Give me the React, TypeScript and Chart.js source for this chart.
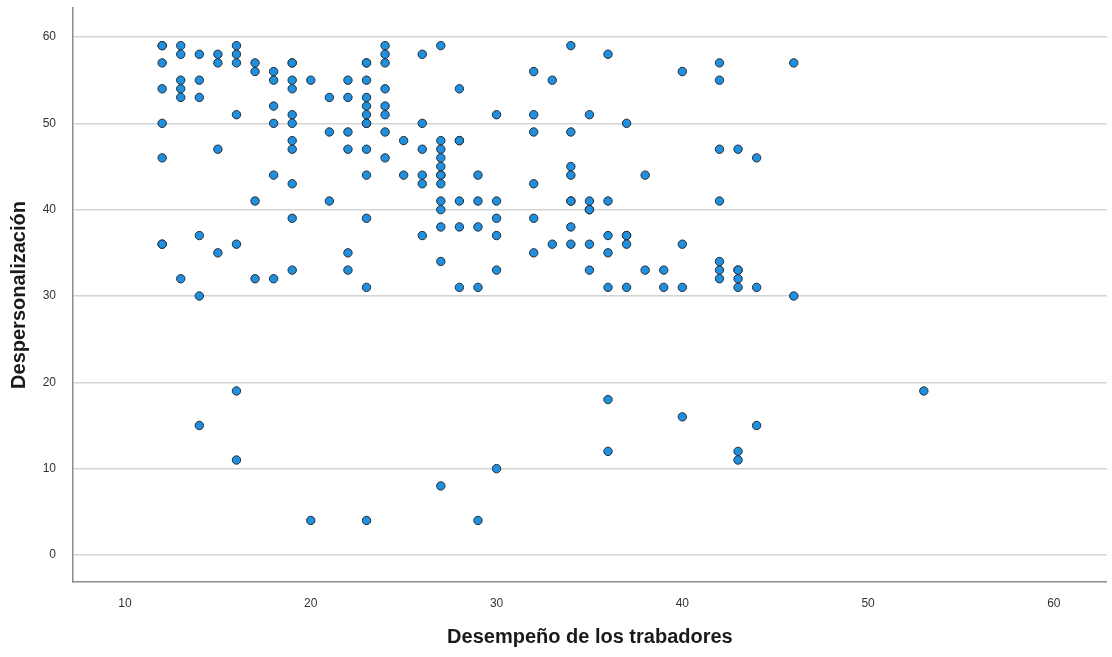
import { useEffect, useRef } from "react";
import { Chart, registerables } from "chart.js";

Chart.register(...registerables);

// Desempeño de los trabadores (x) paired with Despersonalización (y)
const desempeno = [
  12, 12, 12, 12, 12, 12, 12, 12,
  13, 13, 13, 13, 13, 13,
  14, 14, 14, 14, 14, 14,
  15, 15, 15, 15,
  16, 16, 16, 16, 16, 16, 16,
  17, 17, 17, 17,
  18, 18, 18, 18, 18, 18,
  19, 19, 19, 19, 19, 19, 19, 19, 19, 19, 19,
  20, 20,
  21, 21, 21,
  22, 22, 22, 22, 22, 22,
  23, 23, 23, 23, 23, 23, 23, 23, 23, 23, 23, 23, 23,
  24, 24, 24, 24, 24, 24, 24, 24,
  25, 25,
  26, 26, 26, 26, 26, 26,
  27, 27, 27, 27, 27, 27, 27, 27, 27, 27, 27, 27, 27,
  28, 28, 28, 28, 28, 28,
  29, 29, 29, 29, 29,
  30, 30, 30, 30, 30, 30,
  32, 32, 32, 32, 32, 32,
  33, 33,
  34, 34, 34, 34, 34, 34, 34, 34,
  35, 35, 35, 35, 35, 35,
  36, 36, 36, 36, 36, 36, 36,
  37, 37, 37, 37, 37,
  38, 38,
  39, 39,
  40, 40, 40, 40,
  42, 42, 42, 42, 42, 42, 42,
  43, 43, 43, 43, 43, 43, 43,
  44, 44, 44,
  46, 46,
  53,
];

const despersonalizacion = [
  59, 59, 57, 54, 50, 46, 36, 36,
  59, 58, 55, 54, 53, 32,
  58, 55, 53, 37, 30, 15,
  58, 57, 47, 35,
  59, 58, 57, 51, 36, 19, 11,
  57, 56, 41, 32,
  56, 55, 52, 50, 44, 32,
  57, 57, 55, 54, 51, 50, 48, 47, 43, 39, 33,
  55, 4,
  53, 49, 41,
  55, 53, 49, 47, 35, 33,
  57, 57, 55, 53, 52, 51, 50, 50, 47, 44, 39, 31, 4,
  59, 58, 57, 54, 52, 51, 49, 46,
  48, 44,
  58, 50, 47, 44, 43, 37,
  59, 48, 47, 46, 45, 44, 44, 43, 41, 40, 38, 34, 8,
  54, 48, 48, 41, 38, 31,
  44, 41, 38, 31, 4,
  51, 41, 39, 37, 33, 10,
  56, 51, 49, 43, 39, 35,
  55, 36,
  59, 49, 45, 44, 41, 41, 38, 36,
  51, 41, 40, 40, 36, 33,
  58, 41, 37, 35, 31, 18, 12,
  50, 37, 37, 36, 31,
  44, 33,
  33, 31,
  56, 36, 31, 16,
  57, 55, 47, 41, 34, 33, 32,
  47, 33, 33, 32, 31, 12, 11,
  46, 31, 15,
  57, 30,
  19,
];

const xTicks = [10, 20, 30, 40, 50, 60];
const yTicks = [0, 10, 20, 30, 40, 50, 60];
const xTitle = "Desempeño de los trabadores";
const yTitle = "Despersonalización";

const FONT = "'Liberation Sans', Arial, sans-serif";

export default function App() {
  const ref = useRef<HTMLCanvasElement>(null);

  useEffect(() => {
    const points = desempeno.map((x, i) => ({ x, y: despersonalizacion[i] }));
    const chart = new Chart(ref.current!, {
      type: "scatter",
      data: {
        datasets: [
          {
            data: points,
            backgroundColor: "#1f8fe0",
            borderColor: "#262c33",
            borderWidth: 1,
            pointRadius: 4.2,
            pointHoverRadius: 4.2,
          },
        ],
      },
      options: {
        responsive: false,
        animation: false,
        layout: { padding: { top: 8, right: 4, left: 0, bottom: 0 } },
        plugins: {
          legend: { display: false },
          tooltip: { enabled: false },
        },
        scales: {
          x: {
            type: "linear",
            min: 7.2,
            max: 62.85,
            afterBuildTicks: (s: any) => {
              s.ticks = xTicks.map((v) => ({ value: v }));
            },
            afterFit: (s: any) => {
              s.height = 75;
              s.paddingLeft = 0;
              s.paddingRight = 0;
            },
            grid: { display: false, drawTicks: false },
            border: { display: true, color: "#8c8c8c", width: 1.5 },
            ticks: {
              padding: 14,
              color: "#333333",
              maxRotation: 0,
              font: { family: FONT, size: 12 },
            },
            title: {
              display: true,
              text: xTitle,
              color: "#1a1a1a",
              font: { family: FONT, size: 20, weight: "bold" },
              padding: { top: 0, bottom: 8 },
            },
          },
          y: {
            type: "linear",
            min: -3.13,
            max: 63.36,
            afterBuildTicks: (s: any) => {
              s.ticks = yTicks.map((v) => ({ value: v }));
            },
            afterFit: (s: any) => {
              s.width = 73;
              s.paddingTop = 0;
              s.paddingBottom = 0;
            },
            grid: { display: true, drawTicks: false, color: "#d4d4d4", lineWidth: 1.5 },
            border: { display: true, color: "#8c8c8c", width: 1.5 },
            ticks: {
              padding: 17,
              color: "#333333",
              font: { family: FONT, size: 12 },
            },
            title: {
              display: true,
              text: yTitle,
              color: "#1a1a1a",
              font: { family: FONT, size: 20, weight: "bold" },
              padding: { top: 7, bottom: 0 },
            },
          },
        },
      },
    });
    return () => chart.destroy();
  }, []);

  return (
    <div
      style={{
        position: "absolute",
        left: 0,
        top: 0,
        width: 1112,
        height: 657,
        background: "#ffffff",
      }}
    >
      <canvas ref={ref} width={1112} height={657} style={{ display: "block" }} />
    </div>
  );
}
